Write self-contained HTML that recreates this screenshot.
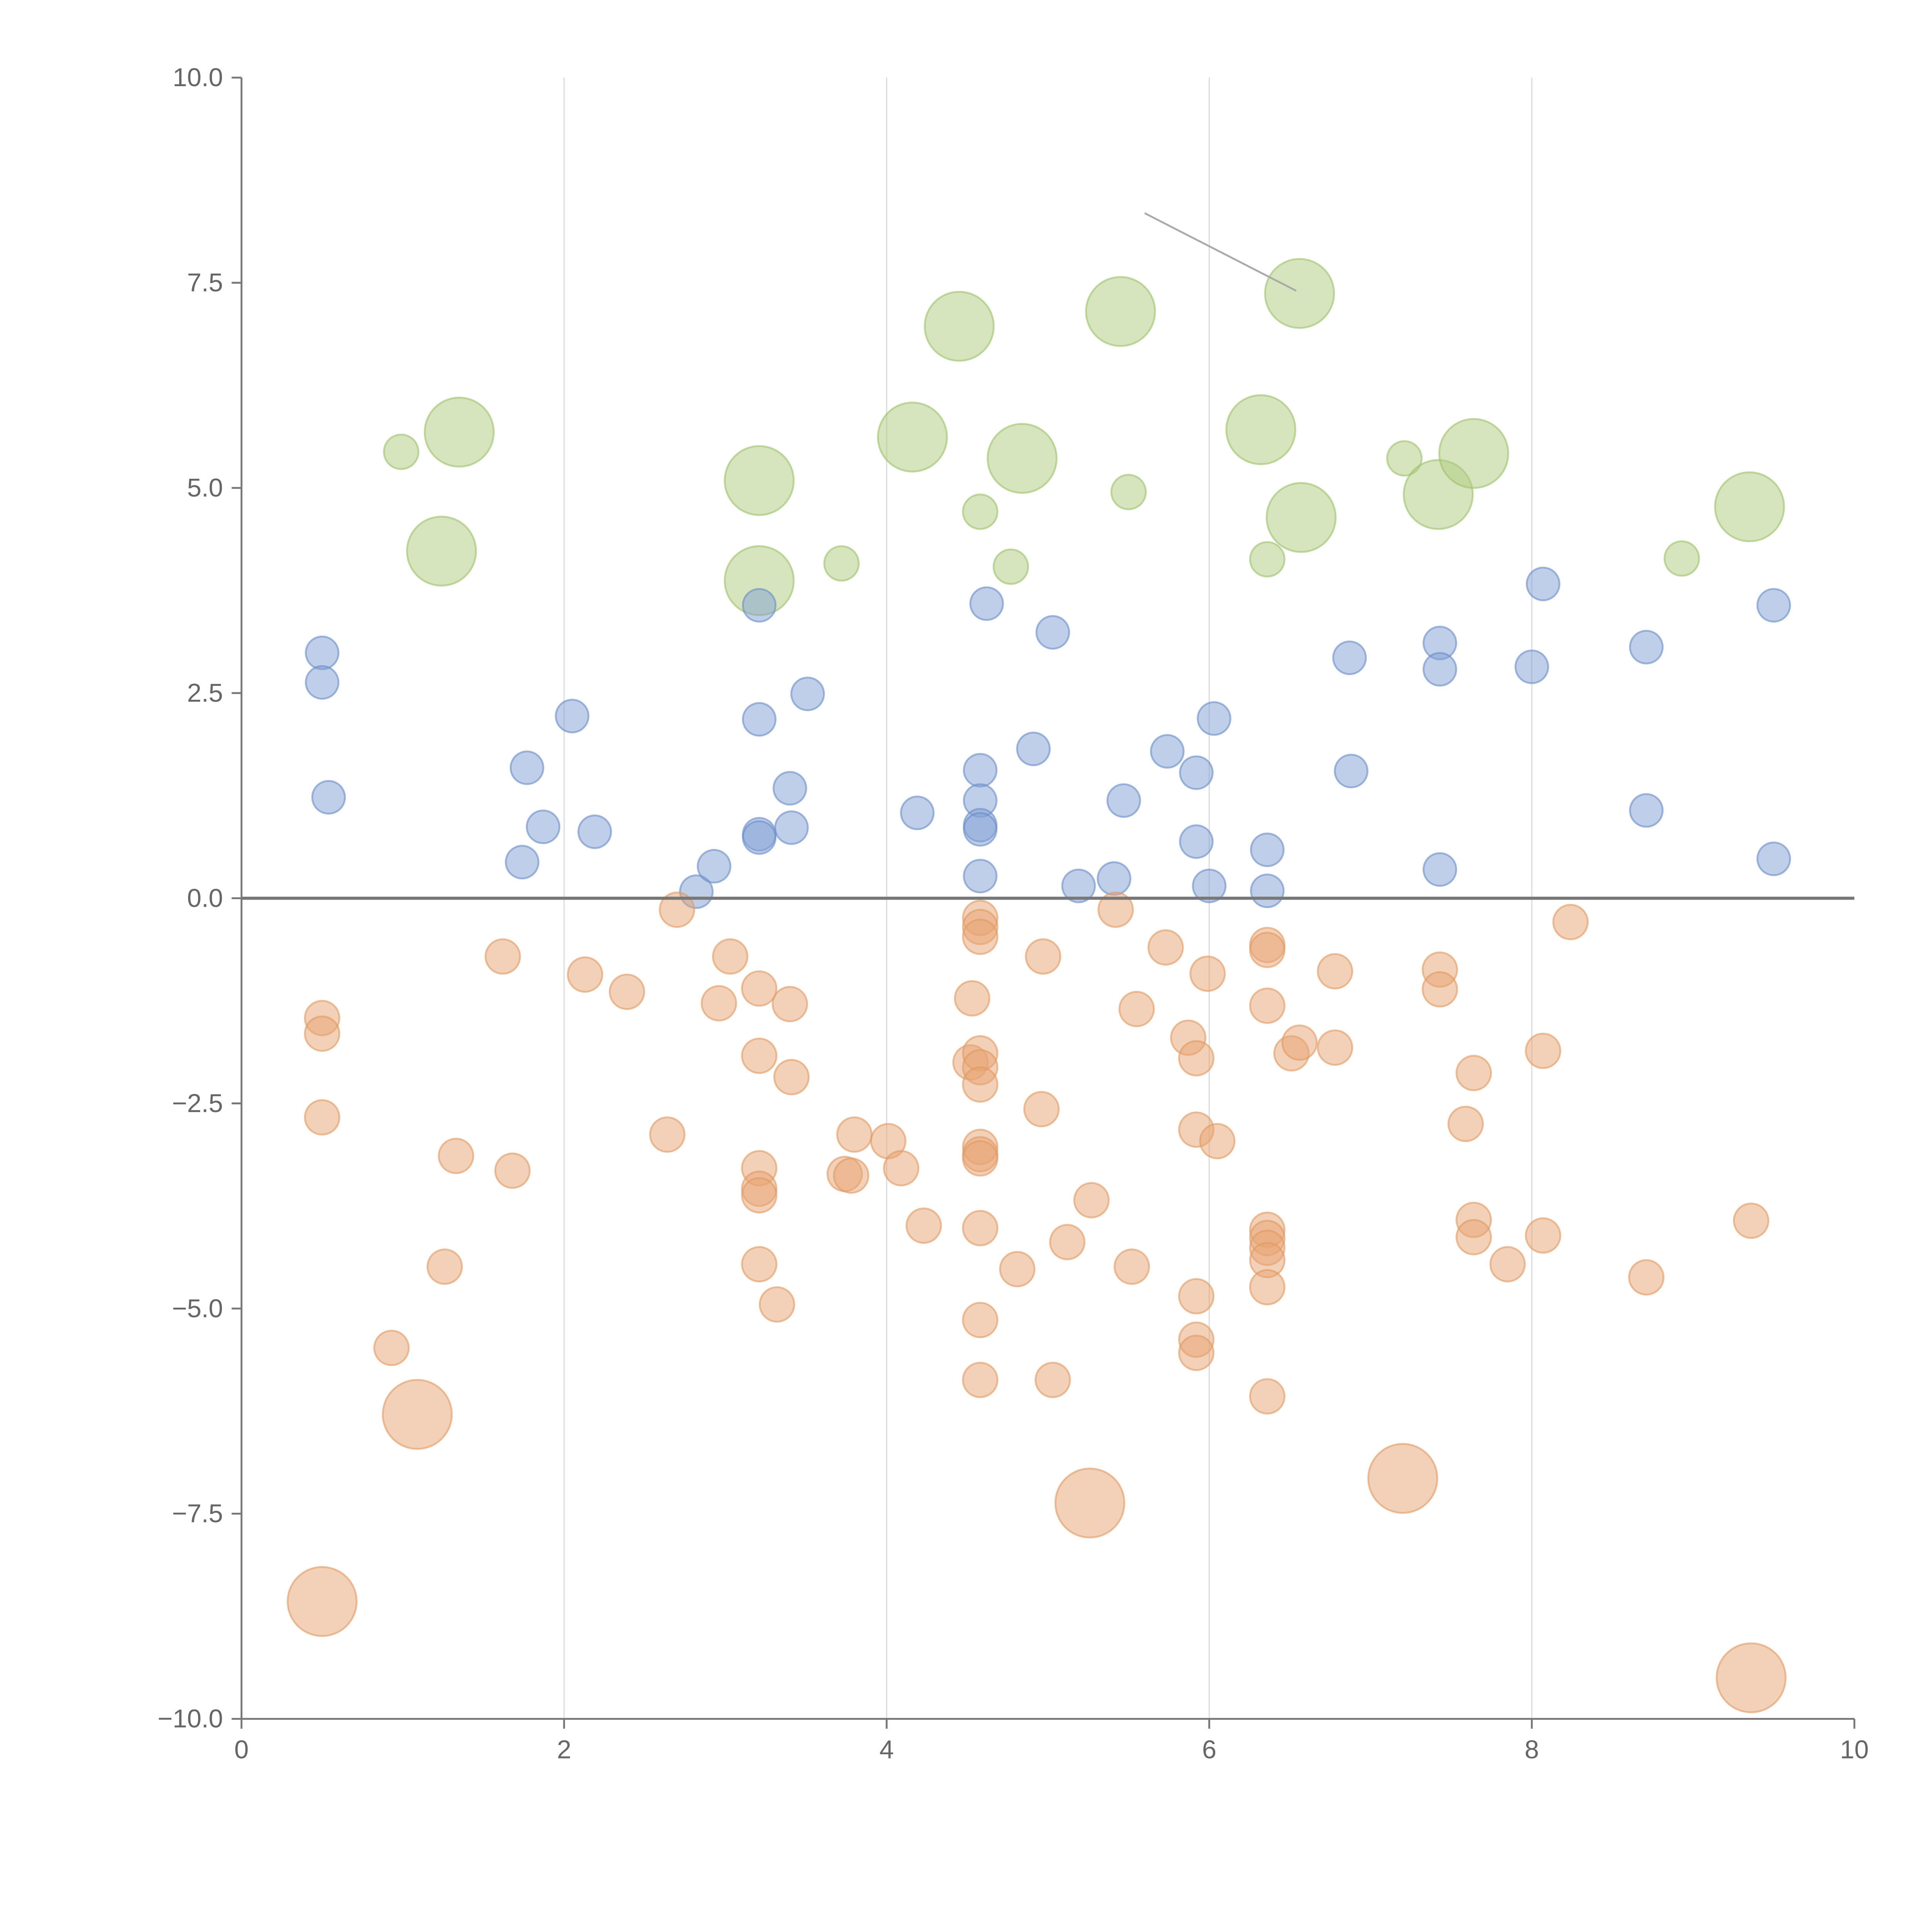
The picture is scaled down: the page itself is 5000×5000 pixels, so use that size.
<!DOCTYPE html>
<html><head><meta charset="utf-8">
<style>
html,body{margin:0;padding:0;background:#fff;}
svg{display:block;}
text{font-family:"Liberation Sans",sans-serif;fill:#666;}
</style></head>
<body>
<svg id="chart" width="5000" height="5000" viewBox="0 0 1568 1568" xmlns="http://www.w3.org/2000/svg">
<g id="grid"></g>
<g id="marks"></g>
<g id="axes"></g>
</svg>
<script>
const xTicks=[0,2,4,6,8,10];
const yTicks=[-10,-7.5,-5,-2.5,0,2.5,5,7.5,10];
const yTickLabels=["\u221210.0","\u22127.5","\u22125.0","\u22122.5","0.0","2.5","5.0","7.5","10.0"];

const greenX=[0.99,1.35,1.24,3.21,3.21,3.72,4.16,4.45,4.58,4.77,4.84,5.45,5.50,6.32,6.56,6.36,6.57,7.21,7.42,7.64,8.93,9.35];
const greenY=[5.44,5.68,4.23,5.09,3.87,4.08,5.62,6.97,4.71,4.04,5.36,7.15,4.95,5.71,7.37,4.13,4.64,5.36,4.92,5.42,4.14,4.77];
const greenS=[1,4,4,4,4,1,4,4,1,1,4,4,1,4,4,1,4,1,4,4,1,4];

const blueX=[0.50,0.50,0.54,1.74,1.77,1.87,2.05,2.19,2.82,2.93,3.21,3.21,3.21,3.21,3.40,3.41,3.51,4.19,4.58,4.58,4.58,4.58,4.58,4.62,4.91,5.03,5.19,5.41,5.47,5.74,5.92,5.92,6.03,6.00,6.36,6.36,6.87,6.88,7.43,7.43,7.43,8.00,8.07,8.71,8.71,9.50,9.50];
const blueY=[2.99,2.63,1.23,0.44,1.59,0.87,2.22,0.81,0.08,0.39,3.57,2.18,0.78,0.74,1.34,0.86,2.49,1.04,1.56,1.19,0.89,0.84,0.27,3.59,1.82,3.24,0.15,0.24,1.19,1.79,1.53,0.69,2.19,0.15,0.59,0.09,2.93,1.55,3.11,2.79,0.35,2.82,3.83,3.06,1.07,3.57,0.48];

const orangeX=[0.50,1.09,5.26,7.20,9.36,
0.50,0.50,0.50,0.93,1.26,1.33,1.62,1.68,2.13,2.39,2.64,2.70,2.96,3.03,3.21,3.21,3.21,3.21,3.21,3.21,3.40,3.41,3.32,3.74,3.80,3.78,4.01,4.09,4.23,4.53,4.52,4.58,4.58,4.58,4.58,4.58,4.58,4.58,4.58,4.58,4.58,4.58,4.58,4.81,4.97,4.96,5.03,5.12,5.27,5.42,5.52,5.55,5.73,5.87,5.92,5.92,5.92,5.92,5.92,5.99,6.05,6.36,6.36,6.36,6.36,6.36,6.36,6.36,6.36,6.36,6.51,6.56,6.78,6.78,7.43,7.43,7.59,7.64,7.64,7.64,7.85,8.07,8.07,8.24,8.71,9.36];
const orangeY=[-8.57,-6.29,-7.37,-7.07,-9.50,
-1.46,-1.65,-2.67,-5.48,-4.49,-3.14,-0.71,-3.32,-0.93,-1.14,-2.88,-0.14,-1.28,-0.71,-1.10,-1.92,-3.29,-3.54,-3.62,-4.46,-1.29,-2.18,-4.95,-3.36,-2.88,-3.38,-2.96,-3.29,-3.99,-1.22,-2.00,-0.24,-0.35,-0.47,-1.89,-2.06,-2.27,-3.03,-3.12,-3.17,-4.02,-5.14,-5.87,-4.52,-0.71,-2.57,-5.87,-4.19,-3.68,-0.14,-4.49,-1.35,-0.60,-1.70,-1.95,-2.82,-4.85,-5.38,-5.54,-0.92,-2.96,-0.57,-0.63,-1.31,-4.04,-4.14,-4.26,-4.41,-4.74,-6.07,-1.89,-1.76,-0.89,-1.82,-0.87,-1.11,-2.75,-2.13,-3.92,-4.13,-4.46,-1.86,-4.11,-0.29,-4.62,-3.93];
const orangeS=[4,4,4,4,4].concat(new Array(orangeX.length-5).fill(1));

const X0=196,X1=1505,Y0=1395,Y1=63;
function sx(v){return X0+(v-0)/(10-0)*(X1-X0);}
function sy(v){return Y0-(v+10)/20*(Y0-Y1);}
function rad(s){return 14*Math.sqrt(s);}
const NS="http://www.w3.org/2000/svg";
function mk(tag,attrs,parent){const e=document.createElementNS(NS,tag);for(const k in attrs)e.setAttribute(k,attrs[k]);parent.appendChild(e);return e;}

const grid=document.getElementById('grid');
xTicks.forEach(t=>{
  if(t===0||t===10)return;
  const l=mk('line',{x1:sx(t),x2:sx(t),y1:Y1,y2:Y0,stroke:'#ddd','stroke-width':1},grid);
  
  
});

const marks=document.getElementById('marks');
function series(xs,ys,ss,fill,stroke,name){
  const g=mk('g',{},marks);
  
  
  xs.forEach((x,i)=>{
    const s=ss?ss[i]:0.9;
    const c=mk('circle',{cx:sx(x),cy:sy(ys[i]),r:rad(s),fill:fill,'fill-opacity':0.5,stroke:stroke,'stroke-opacity':0.6,'stroke-width':1.5},g);
    
    
  });
}
series(greenX,greenY,greenS,'#aecb7d','#9fbf6b','green');
series(blueX,blueY,null,'#7f9fd3','#6a8cc6','blue');
series(orangeX,orangeY,orangeS,'#e8a472','#e09a62','orange');

const axes=document.getElementById('axes');
const conn=mk('line',{x1:929,y1:173,x2:1052,y2:236,stroke:'#aaa','stroke-width':1.5},axes);


const zl=mk('line',{x1:X0,x2:X1,y1:sy(0),y2:sy(0),stroke:'#777','stroke-width':2.5},axes);


const ya=mk('line',{x1:X0,x2:X0,y1:Y1,y2:Y0,stroke:'#777','stroke-width':1.5},axes);


const xa=mk('line',{x1:X0,x2:X1,y1:Y0,y2:Y0,stroke:'#777','stroke-width':1.5},axes);


xTicks.forEach(t=>{
  const tk=mk('line',{x1:sx(t),x2:sx(t),y1:Y0,y2:Y0+8,stroke:'#777','stroke-width':1.5},axes);
  
  
  const tx=mk('text',{x:sx(t),y:Y0+32,'font-size':21,'text-anchor':'middle'},axes);
  tx.textContent=String(t);
  
  
});
yTicks.forEach((t,i)=>{
  const tk=mk('line',{x1:X0-8,x2:X0,y1:sy(t),y2:sy(t),stroke:'#777','stroke-width':1.5},axes);
  
  
  const tx=mk('text',{x:X0-15,y:sy(t)+7,'font-size':21,'text-anchor':'end'},axes);
  tx.textContent=yTickLabels[i];
  
  
});
</script>
</body></html>
